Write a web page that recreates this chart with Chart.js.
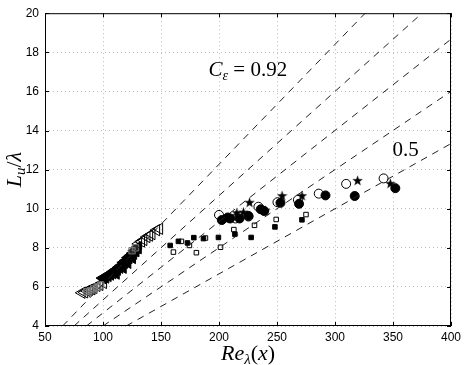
<!DOCTYPE html>
<html lang="en">
<head>
<meta charset="UTF-8">
<title>Lu/lambda against Re_lambda</title>
<script src="https://cdn.jsdelivr.net/npm/chart.js@4.4.0/dist/chart.umd.min.js"></script>
<style>
    html, body { margin: 0; padding: 0; background: #fff; }
    #wrap { width: 471px; height: 365px; }
</style>
</head>
<body>
<div id="wrap"><canvas id="chart" width="471" height="365"></canvas></div>
<script>
// axis ticks
const xTicks = [50, 100, 150, 200, 250, 300, 350, 400];
const yTicks = [4, 6, 8, 10, 12, 14, 16, 18, 20];

// dashed reference lines, C_eps = 0.92, 0.8, 0.7, 0.6, 0.5 (end points)
const refStartX = [65.2, 75, 85.7, 100, 120];
const refStartY = [4, 4, 4, 4, 4];
const refEndX = [326, 375, 400, 400, 400];
const refEndY = [20, 20, 18.67, 16, 13.33];

// open left triangles
const openTriX = [81.7, 84, 86, 88, 90.3, 92, 94.6, 97, 100.3, 127, 129, 130.5, 133, 135, 137.7, 140, 142, 146, 148.6];
const openTriY = [5.7, 5.72, 5.8, 5.85, 5.88, 5.95, 6.05, 6.1, 6.2, 7.85, 8.0, 8.2, 8.32, 8.4, 8.55, 8.62, 8.7, 8.9, 8.97];

// grey rectangles
const greyRectX = [86, 89, 92, 95, 98, 125, 128];
const greyRectY = [5.75, 5.8, 5.9, 6.0, 6.1, 7.85, 8.0];

// filled left triangles
const fillTriX = [100, 102, 104, 106, 108, 110, 111, 112, 114, 116, 117, 118, 120, 121, 122, 124, 125, 126, 128, 130];
const fillTriY = [6.45, 6.5, 6.58, 6.65, 6.72, 6.82, 6.7, 6.9, 7.0, 7.1, 7.0, 7.25, 7.35, 7.25, 7.5, 7.6, 7.5, 7.72, 7.85, 8.0];

// filled squares
const fillSqX = [157.9, 165, 172.8, 178.3, 186.6, 199.5, 213.7, 227.7, 248.2, 271.5];
const fillSqY = [8.12, 8.33, 8.25, 8.52, 8.47, 8.53, 8.7, 8.53, 9.07, 9.43];

// open squares
const openSqX = [160.7, 167.6, 174.5, 180.5, 188.3, 201.3, 212.8, 230.6, 249.3, 275];
const openSqY = [7.78, 8.33, 8.12, 7.75, 8.5, 8.03, 8.93, 9.15, 9.45, 9.7];

// filled circles
const fillCircX = [202.4, 207.6, 209.6, 217.7, 225.4, 236, 239, 253, 269, 291.8, 317, 352];
const fillCircY = [9.42, 9.55, 9.5, 9.5, 9.63, 9.97, 9.88, 10.3, 10.25, 10.68, 10.65, 11.05];

// open circles
const openCircX = [200, 214.2, 225.4, 234, 250.4, 268, 286, 309.6, 341.9];
const openCircY = [9.68, 9.5, 9.6, 10.1, 10.33, 10.45, 10.77, 11.27, 11.55];

// stars
const starX = [215.4, 221.1, 226.3, 239.8, 254.4, 271.5, 319.5, 347.7];
const starY = [9.8, 9.83, 10.33, 9.92, 10.67, 10.67, 11.45, 11.3];

function pts(xs, ys) {
    return xs.map((x, i) => ({ x: x, y: ys[i] }));
}

// five point filled star for the point style
function makeStar(size) {
    const c = document.createElement('canvas');
    c.width = size;
    c.height = size;
    const g = c.getContext('2d');
    const cx = size / 2, cy = size / 2 + 0.5;
    const ro = size / 2, ri = ro * 0.4;
    g.beginPath();
    for (let i = 0; i < 10; i++) {
        const r = i % 2 === 0 ? ro : ri;
        const a = -Math.PI / 2 + i * Math.PI / 5;
        const px = cx + r * Math.cos(a), py = cy + r * Math.sin(a);
        if (i === 0) g.moveTo(px, py); else g.lineTo(px, py);
    }
    g.closePath();
    g.fillStyle = '#000';
    g.fill();
    return c;
}

const datasets = [];
for (let i = 0; i < refStartX.length; i++) {
    datasets.push({
        type: 'line',
        data: [{ x: refStartX[i], y: refStartY[i] }, { x: refEndX[i], y: refEndY[i] }],
        borderColor: '#222',
        borderWidth: 1,
        borderDash: [7, 6],
        pointRadius: 0,
        fill: false
    });
}

datasets.push(
    { data: pts(greyRectX, greyRectY), pointStyle: 'rect', pointRadius: 4.5, borderColor: '#777', backgroundColor: 'rgba(150,150,150,0.25)', pointBorderWidth: 1 },
    { data: pts(openTriX, openTriY), pointStyle: 'triangle', rotation: -90, pointRadius: 6.5, borderColor: '#000', backgroundColor: 'rgba(0,0,0,0)', pointBorderWidth: 1 },
    { data: pts(fillTriX, fillTriY), pointStyle: 'triangle', rotation: -90, pointRadius: 7, borderColor: '#000', backgroundColor: '#000', pointBorderWidth: 1 },
    { data: pts(fillSqX, fillSqY), pointStyle: 'rect', pointRadius: 3.2, borderColor: '#000', backgroundColor: '#000', pointBorderWidth: 1 },
    { data: pts(openSqX, openSqY), pointStyle: 'rect', pointRadius: 3.2, borderColor: '#000', backgroundColor: 'rgba(0,0,0,0)', pointBorderWidth: 1 },
    { data: pts(openCircX, openCircY), pointStyle: 'circle', pointRadius: 4.5, borderColor: '#000', backgroundColor: 'rgba(0,0,0,0)', pointBorderWidth: 1 },
    { data: pts(fillCircX, fillCircY), pointStyle: 'circle', pointRadius: 4.5, borderColor: '#000', backgroundColor: '#000', pointBorderWidth: 1 },
    { data: pts(starX, starY), pointStyle: makeStar(11), pointRadius: 5, borderColor: '#000', backgroundColor: '#000' }
);

// draws a run of text pieces, each with its own font and vertical offset
function drawRuns(ctx, runs, x, y, align) {
    let total = 0;
    runs.forEach(r => { ctx.font = r.font; total += ctx.measureText(r.t).width; });
    let cx = align === 'center' ? x - total / 2 : x;
    runs.forEach(r => {
        ctx.font = r.font;
        ctx.fillText(r.t, cx, y + (r.dy || 0));
        cx += ctx.measureText(r.t).width;
    });
}

const serif = '"Liberation Serif", "DejaVu Serif", serif';

const framePlugin = {
    id: 'frame',
    afterDraw(chart) {
        const ctx = chart.ctx;
        const a = chart.chartArea;
        const xs = chart.scales.x, ys = chart.scales.y;
        ctx.save();
        ctx.strokeStyle = '#000';
        ctx.lineWidth = 1;
        ctx.strokeRect(a.left + 0.5, a.top + 0.5, a.right - a.left - 1, a.bottom - a.top - 1);
        // inward tick marks
        ctx.beginPath();
        xTicks.forEach(v => {
            const p = Math.round(xs.getPixelForValue(v)) + 0.5;
            ctx.moveTo(p, a.bottom); ctx.lineTo(p, a.bottom - 4);
            ctx.moveTo(p, a.top); ctx.lineTo(p, a.top + 4);
        });
        yTicks.forEach(v => {
            const p = Math.round(ys.getPixelForValue(v)) + 0.5;
            ctx.moveTo(a.left, p); ctx.lineTo(a.left + 4, p);
            ctx.moveTo(a.right, p); ctx.lineTo(a.right - 4, p);
        });
        ctx.stroke();

        ctx.fillStyle = '#000';
        ctx.textBaseline = 'alphabetic';
        ctx.textAlign = 'left';

        // annotations
        drawRuns(ctx, [
            { t: 'C', font: 'italic 21px ' + serif },
            { t: 'ε', font: 'italic 14px ' + serif, dy: 4 },
            { t: ' = 0.92', font: '21px ' + serif }
        ], xs.getPixelForValue(191), ys.getPixelForValue(16.8), 'left');
        drawRuns(ctx, [
            { t: '0.5', font: '21px ' + serif }
        ], xs.getPixelForValue(349.5), ys.getPixelForValue(12.7), 'left');

        // x axis title
        drawRuns(ctx, [
            { t: 'Re', font: 'italic 22px ' + serif },
            { t: 'λ', font: 'italic 15px ' + serif, dy: 4 },
            { t: '(', font: '22px ' + serif },
            { t: 'x', font: 'italic 22px ' + serif },
            { t: ')', font: '22px ' + serif }
        ], (a.left + a.right) / 2, 360, 'center');

        // y axis title
        ctx.translate(21, (a.top + a.bottom) / 2);
        ctx.rotate(-Math.PI / 2);
        drawRuns(ctx, [
            { t: 'L', font: 'italic 22px ' + serif },
            { t: 'u', font: 'italic 15px ' + serif, dy: 4 },
            { t: '/', font: '22px ' + serif },
            { t: 'λ', font: 'italic 22px ' + serif }
        ], 0, 0, 'center');
        ctx.restore();
    }
};

new Chart(document.getElementById('chart'), {
    type: 'scatter',
    data: { datasets: datasets },
    options: {
        responsive: false,
        animation: false,
        layout: { padding: { top: 6, right: 20, left: 0, bottom: 0 } },
        plugins: {
            legend: { display: false },
            tooltip: { enabled: false }
        },
        scales: {
            x: {
                type: 'linear',
                min: 50,
                max: 400,
                afterFit(scale) { scale.height = 39; },
                afterBuildTicks(scale) { scale.ticks = xTicks.map(v => ({ value: v })); },
                grid: { color: '#bdbdbd', borderDash: [1, 3], drawTicks: false },
                border: { display: false, dash: [1, 3] },
                ticks: { color: '#000', padding: 4, font: { family: '"Liberation Sans", Arial, sans-serif', size: 12 } }
            },
            y: {
                type: 'linear',
                min: 4,
                max: 20,
                afterFit(scale) { scale.width = 45; },
                afterBuildTicks(scale) { scale.ticks = yTicks.map(v => ({ value: v })); },
                grid: { color: '#bdbdbd', borderDash: [1, 3], drawTicks: false },
                border: { display: false, dash: [1, 3] },
                ticks: { color: '#000', padding: 6, font: { family: '"Liberation Sans", Arial, sans-serif', size: 12 } }
            }
        }
    },
    plugins: [framePlugin]
});
</script>
</body>
</html>
